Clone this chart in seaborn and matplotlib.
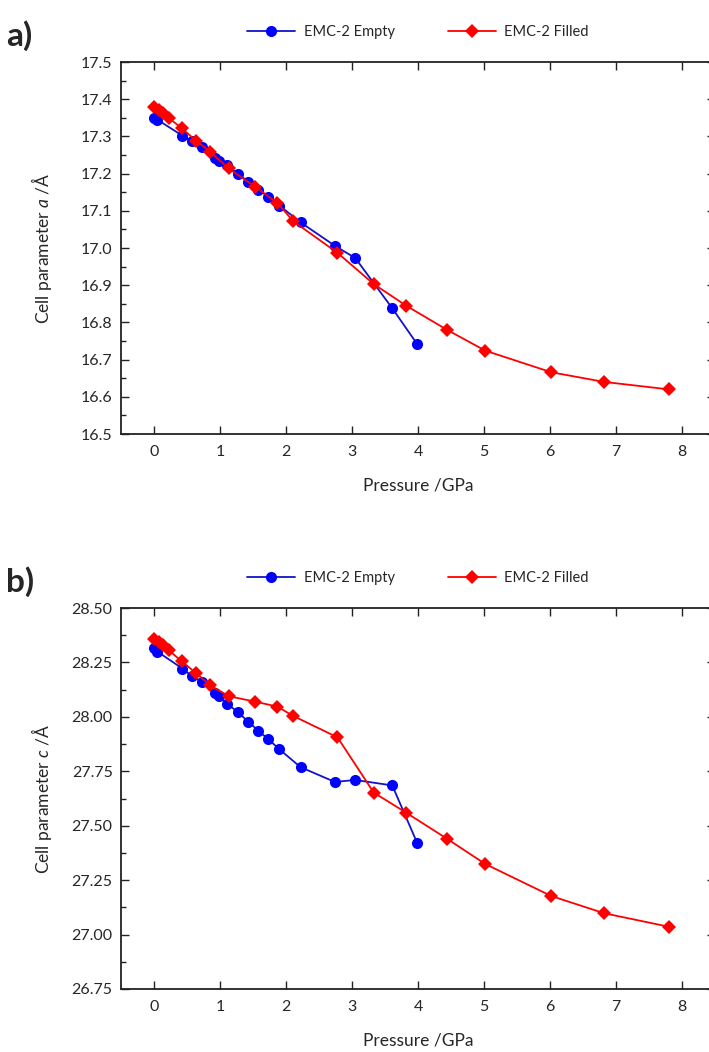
import matplotlib
matplotlib.use('Agg')
import matplotlib.pyplot as plt
import seaborn as sns
from matplotlib.ticker import MultipleLocator, FormatStrFormatter

# Pressure points (GPa)
p_empty = [0.0, 0.05, 0.43, 0.57, 0.72, 0.93, 0.98, 1.11, 1.27, 1.43, 1.58, 1.73, 1.90, 2.22, 2.74, 3.05, 3.61, 3.99]
p_filled = [0.0, 0.07, 0.13, 0.22, 0.42, 0.64, 0.85, 1.13, 1.53, 1.87, 2.11, 2.78, 3.33, 3.82, 4.44, 5.02, 6.02, 6.82, 7.80]

# Cell parameter a (Angstrom)
a_empty = [17.350, 17.345, 17.302, 17.287, 17.272, 17.243, 17.234, 17.222, 17.200, 17.178,
           17.157, 17.138, 17.114, 17.069, 17.006, 16.973, 16.838, 16.741]
a_filled = [17.380, 17.372, 17.362, 17.350, 17.322, 17.288, 17.259, 17.214, 17.165, 17.121,
            17.072, 16.987, 16.903, 16.845, 16.780, 16.724, 16.666, 16.640, 16.620]

# Cell parameter c (Angstrom)
c_empty = [28.315, 28.300, 28.222, 28.188, 28.161, 28.108, 28.096, 28.061, 28.021, 27.978,
           27.936, 27.898, 27.851, 27.769, 27.701, 27.710, 27.685, 27.419]
c_filled = [28.356, 28.345, 28.330, 28.307, 28.255, 28.200, 28.145, 28.095, 28.070, 28.047,
            28.004, 27.906, 27.652, 27.560, 27.440, 27.324, 27.177, 27.098, 27.036]

labels = ['EMC-2 Empty', 'EMC-2 Filled']


def setup_axis(ax, ylim, ymajor, yfmt, ylabel):
    ax.set_xlim(-0.5, 8.5)
    ax.set_ylim(*ylim)
    ax.xaxis.set_major_locator(MultipleLocator(1))
    ax.yaxis.set_major_locator(MultipleLocator(ymajor))
    ax.yaxis.set_minor_locator(MultipleLocator(ymajor / 2))
    ax.yaxis.set_major_formatter(FormatStrFormatter(yfmt))
    ax.tick_params(which='both', direction='in', top=True, right=True, width=1.0, color='#222222')
    ax.tick_params(which='major', length=6)
    ax.tick_params(which='minor', length=3.5)
    ax.tick_params(axis='x', pad=8, labelsize=11.5)
    ax.tick_params(axis='y', pad=6, labelsize=11.5)
    for s in ax.spines.values():
        s.set_linewidth(1.3)
        s.set_color('#222222')
    ax.set_xlabel('Pressure /GPa', fontsize=12.5, labelpad=13)
    ax.set_ylabel(ylabel, fontsize=12.5)
    ax.yaxis.set_label_coords(-0.112, 0.5)


def draw(ax, y_empty, y_filled):
    sns.lineplot(x=p_empty, y=y_empty, ax=ax, sort=False, estimator=None,
                 color='#1212c8', marker='o', markersize=8, markerfacecolor='#0000ff',
                 markeredgewidth=0, linewidth=1.3, label=labels[0])
    sns.lineplot(x=p_filled, y=y_filled, ax=ax, sort=False, estimator=None,
                 color='#ff0000', marker='D', markersize=6.8, markerfacecolor='#ff0000',
                 markeredgewidth=0, linewidth=1.3, label=labels[1])
    ax.legend(loc='lower center', bbox_to_anchor=(0.5, 1.045), ncol=2, frameon=False,
              fontsize=10.5, handlelength=3.3, columnspacing=3.6, handletextpad=0.6,
              borderaxespad=0)


sns.set_style('ticks')
plt.rcParams['font.family'] = ['Lato', 'DejaVu Sans']
plt.rcParams['mathtext.fontset'] = 'custom'
plt.rcParams['mathtext.it'] = 'Lato:italic'
plt.rcParams['mathtext.rm'] = 'Lato'

W, H = 709, 1052
fig = plt.figure(figsize=(W / 100, H / 100), dpi=100)

left = 121 / W
width = 594 / W
ax1 = fig.add_axes([left, 1 - 434 / H, width, 372 / H])
ax2 = fig.add_axes([left, 1 - 989 / H, width, 381 / H])

draw(ax1, a_empty, a_filled)
setup_axis(ax1, (16.5, 17.5), 0.1, '%.1f', 'Cell parameter $a$ /Å')

draw(ax2, c_empty, c_filled)
setup_axis(ax2, (26.75, 28.5), 0.25, '%.2f', 'Cell parameter $c$ /Å')

fig.text(6 / W, 1 - 36 / H, 'a)', fontsize=24, fontweight='bold', va='center', ha='left')
fig.text(6 / W, 1 - 582 / H, 'b)', fontsize=24, fontweight='bold', va='center', ha='left')

fig.savefig('out.png', dpi=100)
